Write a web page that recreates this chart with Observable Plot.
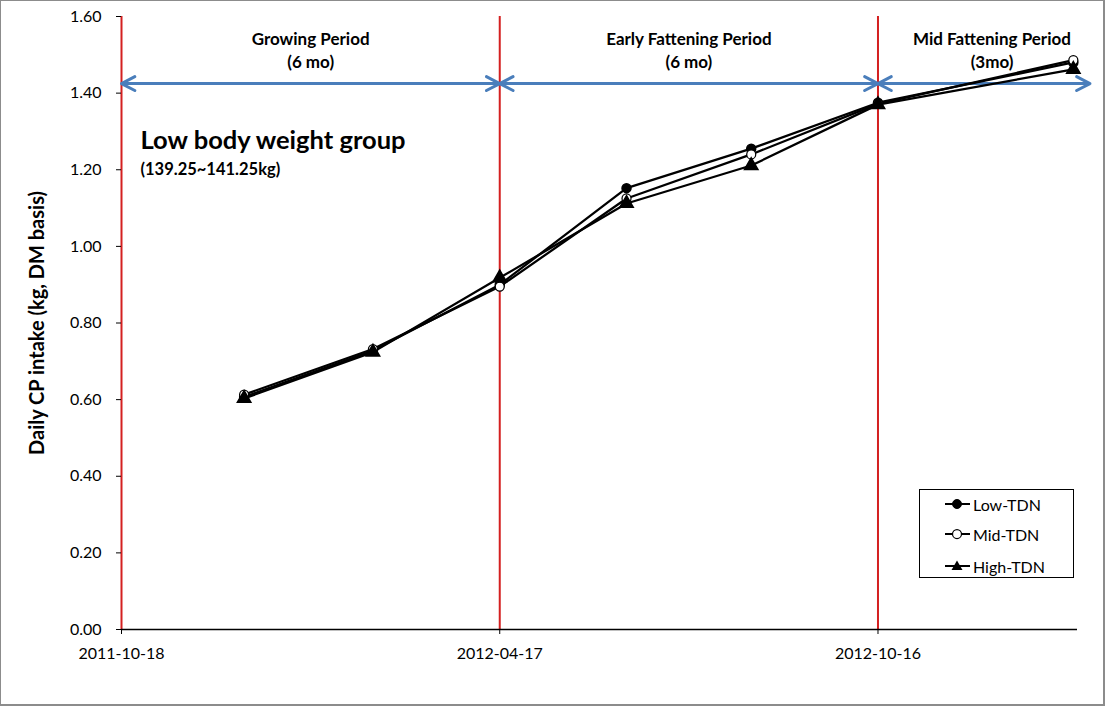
<!DOCTYPE html>
<html>
<head>
<meta charset="utf-8">
<script src="https://cdn.jsdelivr.net/npm/d3@7"></script>
<script src="https://cdn.jsdelivr.net/npm/@observablehq/plot@0.6"></script>
<style>
  html, body { margin: 0; padding: 0; background: #fff; }
  #wrap { position: relative; width: 1105px; height: 706px; overflow: hidden; font-family: Lato, "Noto Sans", sans-serif; }
  #frame { position: absolute; left: 0; top: 0; width: 1105px; height: 706px; box-sizing: border-box; border: 1px solid #8c8c8c; border-right-width: 2px; border-bottom-width: 2px; pointer-events: none; }
  #chart { position: absolute; left: 0; top: 0; }
  #legend { position: absolute; left: 919px; top: 489px; width: 155px; height: 89px; box-sizing: border-box; border: 1px solid #000; background: #fff; }
  .row { position: absolute; left: 25px; height: 20px; display: flex; align-items: center; font-size: 16px; color: #000; }
  .row svg { margin-right: 2px; }
</style>
</head>
<body>
<div id="wrap">
  <div id="chart"></div>
  <div id="legend"></div>
  <div id="frame"></div>
</div>
<script>
// ---- data ----
const sampleDates = ["2011-12-16", "2012-02-16", "2012-04-17", "2012-06-17", "2012-08-16", "2012-10-16", "2013-01-18"];
const lowTDN  = [0.607, 0.728, 0.900, 1.152, 1.255, 1.375, 1.480];
const midTDN  = [0.613, 0.732, 0.895, 1.125, 1.240, 1.372, 1.486];
const highTDN = [0.603, 0.724, 0.918, 1.112, 1.211, 1.370, 1.462];
const seriesNames = ["Low-TDN", "Mid-TDN", "High-TDN"];

const xTickDates = ["2011-10-18", "2012-04-17", "2012-10-16"];
const yTicks = [0, 0.2, 0.4, 0.6, 0.8, 1.0, 1.2, 1.4, 1.6];
const xDomain = ["2011-10-18", "2013-01-20"];

const periodLabels = ["Growing Period\n(6 mo)", "Early Fattening Period\n(6 mo)", "Mid Fattening Period\n(3mo)"];
const periodStarts = ["2011-10-18", "2012-04-17", "2012-10-16"];
const periodEnds   = ["2012-04-17", "2012-10-16", "2013-01-26"];
const arrowLevel = 1.425;

const groupTitle = "Low body weight group";
const groupSubtitle = "(139.25~141.25kg)";
const yTitle = "Daily CP intake (kg, DM basis)";

// ---- build ----
const parse = d3.utcParse("%Y-%m-%d");
const rows = [];
[lowTDN, midTDN, highTDN].forEach((vals, s) => {
  vals.forEach((v, i) => rows.push({series: seriesNames[s], date: parse(sampleDates[i]), value: v}));
});
const periods = periodLabels.map((label, i) => {
  const a = parse(periodStarts[i]), b = parse(periodEnds[i]);
  return {label, start: a, end: b, mid: new Date((+a + +b) / 2)};
});

const red = "#d42020";
const blue = "#4a7ebb";
const font = "Lato, 'Noto Sans', sans-serif";

const arrowOpts = {y1: () => arrowLevel, y2: () => arrowLevel, stroke: blue, strokeWidth: 3, headLength: 7.5, headAngle: 55, clip: false};

const marks = [
  // red period boundaries
  Plot.ruleX(periodStarts.map(parse), {y1: 0, y2: 1.6, stroke: red, strokeWidth: 2}),
  // axes
  Plot.axisY({ticks: yTicks, tickFormat: d3.format(".2f"), tickSize: 5, tickPadding: 15, fontSize: 16, label: null, stroke: "#000"}),
  Plot.axisX({ticks: xTickDates.map(parse), tickFormat: d3.utcFormat("%Y-%m-%d"), tickSize: 5, tickPadding: 13, fontSize: 16, label: null}),
  Plot.ruleY([0], {stroke: "#000", strokeWidth: 1.5}),
  // arrows (double-headed: two arrows from the middle outwards)
  Plot.arrow(periods, {x1: "mid", x2: "start", ...arrowOpts}),
  Plot.arrow(periods, {x1: "mid", x2: "end", ...arrowOpts}),
  // period labels
  ...periods.map((p, i) => Plot.text([p], {x: "mid", frameAnchor: "top", text: "label", lineAnchor: "top", dy: 13, dx: i === 2 ? 8 : 0, lineHeight: 1.32, fontSize: 17, fontWeight: "bold", fill: "#000"})),
  // group annotation
  Plot.text([groupTitle], {frameAnchor: "top-left", textAnchor: "start", lineAnchor: "middle", dx: 19, dy: 124, fontSize: 25.5, fontWeight: "bold", fill: "#000"}),
  Plot.text([groupSubtitle], {frameAnchor: "top-left", textAnchor: "start", lineAnchor: "middle", dx: 19, dy: 153, fontSize: 16.5, fontWeight: "bold", fill: "#000"}),
  // y title
  Plot.text([yTitle], {frameAnchor: "left", textAnchor: "middle", rotate: -90, dx: -84, fontSize: 20, fontWeight: "bold", fill: "#000"}),
  // series lines
  Plot.line(rows, {x: "date", y: "value", z: "series", stroke: "#000", strokeWidth: 2.25}),
  // markers
  Plot.dot(rows.filter(d => d.series === "Low-TDN"), {x: "date", y: "value", r: 4.5, fill: "#000", stroke: "#000"}),
  Plot.dot(rows.filter(d => d.series === "Mid-TDN"), {x: "date", y: "value", r: 4.5, fill: "#fff", stroke: "#000", strokeWidth: 1.25}),
  Plot.dot(rows.filter(d => d.series === "High-TDN"), {x: "date", y: "value", r: 5, symbol: "triangle", fill: "#000", stroke: "#000"})
];

const chart = Plot.plot({
  width: 1105,
  height: 706,
  marginLeft: 121,
  marginRight: 28,
  marginTop: 16,
  marginBottom: 77,
  style: {fontFamily: font, color: "#000", background: "transparent", overflow: "visible"},
  x: {type: "utc", domain: xDomain.map(parse)},
  y: {domain: [0, 1.6]},
  marks
});
document.getElementById("chart").appendChild(chart);

// ---- legend ----
const legend = document.getElementById("legend");
const markerSvg = {
  "Low-TDN": '<circle cx="12" cy="10" r="4.5" fill="#000" stroke="#000"/>',
  "Mid-TDN": '<circle cx="12" cy="10" r="4.5" fill="#fff" stroke="#000" stroke-width="1.25"/>',
  "High-TDN": '<path d="M12,4.5 L17.5,14 L6.5,14 Z" fill="#000"/>'
};
const rowTops = [4, 34, 66];
seriesNames.forEach((name, i) => {
  const r = document.createElement("div");
  r.className = "row";
  r.style.top = rowTops[i] + "px";
  r.innerHTML = `<svg width="26" height="20"><line x1="0" y1="10" x2="25" y2="10" stroke="#000" stroke-width="2"/>${markerSvg[name]}</svg><span>${name}</span>`;
  legend.appendChild(r);
});
</script>
</body>
</html>
